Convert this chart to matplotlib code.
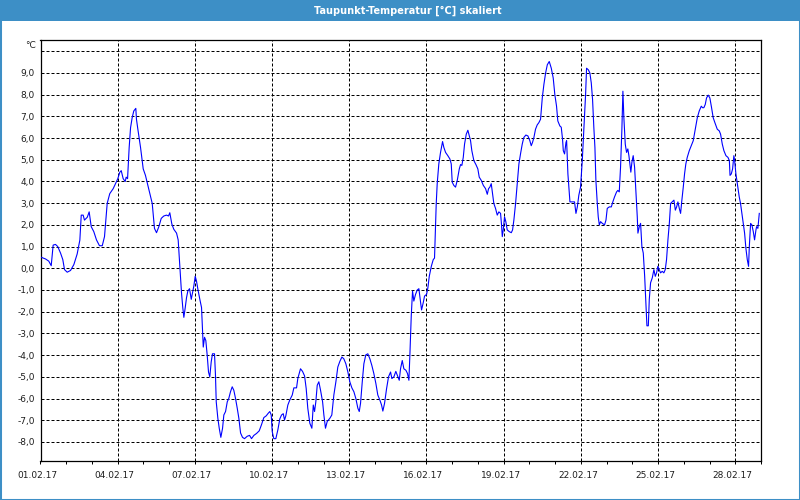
import matplotlib
matplotlib.use("Agg")
import matplotlib.pyplot as plt
import matplotlib.dates as mdates
from matplotlib.patches import Rectangle
from matplotlib.ticker import FixedLocator
from matplotlib.transforms import ScaledTranslation
from datetime import datetime, timedelta

title = "Taupunkt-Temperatur [°C] skaliert"
unit = "°C"
start = datetime(2017, 2, 1)
end = datetime(2017, 3, 1)
label_days = [1, 4, 7, 10, 13, 16, 19, 22, 25, 28]
y_ticks = list(range(-8, 11))

# hours since 01.02.17 00:00
hours = [0, 4.7, 7.7, 10.0, 11.8, 14.0, 16.1, 18.7, 20.8, 22.4, 24.9, 28.0, 31.1, 34.2, 36.7,
         38.0, 39.8, 41.0, 43.6, 45.4, 47.3, 49.7, 52.2, 55.0, 57.6, 59.7, 62.2, 64.6, 67.8,
         70.0, 72.1, 74.0, 75.3, 77.1, 79.0, 79.9, 81.2, 82.7, 84.0, 85.5, 87.0, 88.9, 89.5,
         90.8, 93.3, 95.8, 97.9, 100.1, 102.0, 104.2, 106.3, 108.2, 110.4, 112.6, 115.0, 117.5,
         119.4, 120.6, 122.5, 124.3, 126.9, 128.4, 129.7, 130.6, 131.5, 132.7, 133.7, 135.0,
         136.2, 137.4, 139.0, 140.6, 141.8, 143.0, 144.3, 145.5, 146.7, 148.6, 150.2, 151.1,
         151.8, 153.0, 154.2, 155.5, 156.7, 157.9, 159.2, 160.4, 162.3, 163.2, 163.9, 165.4,
         166.7, 168.2, 169.8, 171.0, 172.6, 174.2, 175.6, 177.2, 178.8, 180.3, 181.9, 183.5,
         185.0, 186.6, 188.4, 190.3, 192.8, 195.0, 196.8, 199.0, 201.5, 204.0, 206.1, 208.3,
         210.5, 212.4, 213.9, 215.2, 216.1, 217.6, 219.5, 221.4, 223.2, 224.8, 226.4, 227.6,
         228.8, 230.7, 232.5, 234.8, 236.3, 238.8, 240.0, 242.5, 244.4, 246.3, 247.8, 249.3,
         251.2, 253.1, 254.4, 255.6, 256.8, 258.1, 259.6, 261.2, 263.1, 264.3, 265.8, 267.4,
         269.9, 271.7, 273.6, 275.5, 277.3, 279.2, 281.1, 282.9, 284.8, 286.7, 288.5, 290.4,
         292.3, 294.1, 296.0, 297.3, 298.5, 300.1, 301.6, 303.4, 305.3, 307.2, 309.0, 310.9,
         312.8, 314.6, 316.5, 318.1, 319.3, 320.9, 322.8, 324.6, 326.5, 327.7, 329.6, 331.4,
         333.3, 334.6, 335.8, 337.4, 338.9, 340.8, 342.3, 343.6, 344.5, 345.8, 347.0, 348.2,
         349.8, 351.4, 352.9, 354.5, 355.4, 357.0, 358.2, 360.1, 361.3, 362.6, 364.5, 366.3,
         367.5, 368.2, 369.1, 370.0, 371.5, 373.1, 375.0, 376.2, 377.8, 379.9, 381.8, 383.1,
         384.0, 385.5, 387.1, 388.7, 390.6, 391.8, 393.0, 394.3, 395.5, 397.1, 398.6, 399.9,
         401.1, 402.3, 404.2, 406.1, 407.9, 409.2, 411.1, 413.0, 415.1, 416.7, 417.9, 419.1,
         420.4, 421.6, 422.8, 424.4, 426.0, 427.5, 429.1, 430.0, 430.7, 431.6, 432.8, 434.0,
         435.3, 437.2, 439.1, 440.3, 441.5, 443.1, 444.7, 446.2, 447.7, 449.3, 450.8, 452.7,
         454.6, 456.4, 457.7, 458.9, 460.2, 461.7, 463.3, 464.8, 466.4, 468.0, 469.5, 471.1,
         472.7, 474.5, 476.4, 478.2, 479.7, 481.3, 482.5, 484.4, 485.7, 486.9, 487.6, 488.8,
         490.1, 490.7, 491.9, 493.8, 496.0, 498.1, 499.4, 500.7, 502.1, 503.7, 505.3, 506.8,
         508.4, 509.3, 510.9, 512.4, 513.7, 514.9, 516.1, 517.1, 518.0, 519.3, 520.2, 521.2,
         522.4, 524.0, 526.1, 527.4, 528.6, 530.5, 532.4, 533.8, 535.4, 537.3, 538.5, 539.8,
         541.0, 542.2, 543.2, 544.1, 545.4, 546.6, 547.8, 548.8, 549.7, 550.6, 551.6, 552.8,
         554.1, 555.3, 556.6, 557.2, 558.5, 559.7, 560.9, 562.2, 563.5, 564.7, 565.6, 566.9,
         567.8, 569.0, 570.6, 572.1, 573.4, 574.6, 575.8, 577.1, 578.3, 579.9, 581.4, 582.7,
         583.9, 585.2, 586.5, 587.7, 589.2, 590.8, 592.1, 593.3, 594.5, 595.8, 597.0, 598.2,
         599.5, 600.7, 601.9, 603.2, 605.1, 607.0, 608.8, 610.7, 612.6, 614.4, 616.3, 617.5,
         618.7, 620.0, 621.2, 622.8, 624.3, 625.9, 627.4, 629.0, 631.2, 633.1, 634.3, 635.9,
         637.4, 639.3, 641.2, 642.5, 643.1, 644.3, 645.5, 646.7, 647.4, 648.6, 649.9, 651.7,
         652.9, 654.2, 655.5, 656.7, 657.9, 659.2, 660.4, 661.1, 662.3, 663.5, 664.8, 666.0,
         667.3, 667.9, 669.1, 670.4]

# dew point in °C
values = [0.52, 0.43, 0.33, 0.12, 1.07, 1.10, 1.0, 0.7, 0.4, -0.06, -0.18, -0.1, 0.17, 0.66, 1.3,
          2.45, 2.45, 2.22, 2.35, 2.6, 1.92, 1.69, 1.31, 1.04, 1.04, 1.46, 2.99, 3.44, 3.67,
          3.9, 4.13, 4.43, 4.5, 4.13, 4.0, 4.2, 4.13, 5.57, 6.48, 6.94, 7.25, 7.37, 6.87,
          6.41, 5.57, 4.58, 4.28, 3.82, 3.44, 2.99, 1.84, 1.64, 1.92, 2.3, 2.41, 2.45,
          2.41, 2.56, 2.04, 1.8, 1.62, 1.31, 0.32, -0.37, -1.12, -1.81, -2.26, -1.81,
          -1.35, -1.05, -0.94, -1.43, -1.12, -0.82, -0.37, -0.59, -0.94, -1.43, -1.81, -2.8,
          -3.63, -3.18, -3.33, -4.02, -4.78, -5.0, -4.32, -3.94, -3.94, -4.93, -6.15, -6.91,
          -7.37, -7.79, -7.37, -6.76, -6.6, -6.15, -6.0, -5.69, -5.46, -5.62, -6.0, -6.45,
          -6.91, -7.59, -7.79, -7.85, -7.74, -7.7, -7.85, -7.7, -7.61, -7.49, -7.21, -6.88,
          -6.8, -6.68, -6.6, -6.76, -7.52, -7.85, -7.85, -7.44, -6.94, -6.76, -6.7, -6.99,
          -6.8, -6.3, -6.07, -5.84, -5.51, -5.51, -5.08, -4.63, -4.75, -4.96, -5.54, -6.45,
          -7.14, -7.37, -6.3, -6.6, -6.15, -5.39, -5.23, -5.62, -6.15, -6.76, -7.37, -7.06,
          -6.91, -6.76, -5.84, -5.23, -4.55, -4.29, -4.09, -4.17, -4.4, -4.78, -5.23, -5.51,
          -5.69, -6.0, -6.45, -6.6, -6.22, -5.23, -4.4, -3.99, -3.94, -4.17, -4.47, -4.85,
          -5.31, -5.84, -6.07, -6.3, -6.58, -6.22, -5.54, -5.0, -4.78, -5.08, -5.0, -4.75,
          -5.0, -5.16, -4.63, -4.25, -4.63, -4.7, -4.85, -5.16, -4.02, -2.19, -1.05, -1.51,
          -1.2, -1.0, -0.94, -1.58, -1.92, -1.58, -1.28, -1.2, -0.9, -0.37, 0.09, 0.4,
          0.47, 1.62, 2.99, 3.9, 4.81, 5.34, 5.84, 5.57, 5.34, 5.19, 5.04, 4.81,
          3.97, 3.82, 3.74, 4.05, 4.58, 4.78, 4.74, 5.11, 5.72, 6.18, 6.36, 6.1,
          5.88, 5.42, 4.96, 4.78, 4.58, 4.2, 4.05, 3.82, 3.67, 3.41, 3.67, 3.74,
          3.9, 3.44, 2.99, 2.76, 2.45, 2.6, 2.53, 2.0, 1.46, 1.77, 2.37, 2.15,
          1.77, 1.69, 1.64, 1.77, 2.22, 2.99, 3.9, 4.81, 5.27, 5.72, 6.03, 6.14,
          6.1, 5.88, 5.65, 5.8, 6.03, 6.41, 6.61, 6.71, 6.87, 7.85, 8.47, 9.0,
          9.38, 9.53, 9.22, 8.77, 8.01, 7.47, 6.79, 6.56, 6.5, 5.95, 5.42, 5.27,
          5.8, 5.88, 4.35, 3.06, 3.06, 3.06, 2.53, 2.83, 3.37, 3.74, 4.96, 6.48,
          8.01, 9.22, 9.15, 9.0, 8.54, 7.78, 6.48, 5.57, 4.05, 2.99, 2.37, 2.0,
          2.15, 2.07, 2.0, 2.22, 2.76, 2.83, 2.83, 3.06, 3.29, 3.52, 3.59, 3.52,
          4.66, 6.33, 8.16, 6.94, 5.72, 5.34, 5.5, 5.19, 4.81, 4.43, 4.89, 5.19,
          4.66, 3.59, 2.37, 1.62, 1.92, 2.07, 1.0, 0.7, -0.37, -1.74, -2.65, -2.65,
          -1.43, -0.67, -0.44, -0.06, -0.37, -0.21, 0.09, -0.06, -0.21, -0.14, -0.21, -0.06,
          0.4, 1.31, 2.07, 2.99, 3.06, 3.14, 2.68, 2.83, 3.06, 2.76, 2.53, 3.14,
          3.74, 4.35, 4.81, 5.11, 5.42, 5.65, 5.88, 6.41, 6.94, 7.25, 7.47, 7.4,
          7.4, 7.55, 7.85, 7.98, 7.85, 7.4, 6.94, 6.71, 6.41, 6.33, 6.18, 5.72,
          5.42, 5.19, 5.11, 4.96, 4.28, 4.35, 4.58, 5.19, 4.96, 4.35, 3.9, 3.29,
          2.99, 2.53, 2.07, 1.62, 0.93, 0.4, 0.09, 1.0, 2.07, 2.0, 1.69, 1.31,
          1.77, 1.92, 1.84, 2.53]

W, H = 800, 500
blue = "#3d8fc6"
text_col = "#1e1e1e"
plt.rcParams["font.family"] = ["DejaVu Sans"]

fig = plt.figure(figsize=(W / 100, H / 100), dpi=100)
fig.patch.set_facecolor("white")

# title bar
fig.add_artist(Rectangle((0, 1 - 21 / H), 1, 21 / H, transform=fig.transFigure,
                         facecolor=blue, edgecolor="none", zorder=0))
fig.add_artist(Rectangle((0, 0), 1, 1, transform=fig.transFigure, fill=False,
                         edgecolor=blue, linewidth=2.2, zorder=5))
fig.text(408 / W, 1 - 11 / H, title, color="white", ha="center", va="center",
         fontsize=7, fontweight="bold")

ax = fig.add_axes([40.5 / W, 1 - 461 / H, (761 - 40.5) / W, (461 - 40) / H])
ax.set_facecolor("white")

times = [start + timedelta(hours=h) for h in hours]
ax.plot(times, values, color="#0000ff", linewidth=0.8, zorder=3)

ax.set_xlim(start, end)
ax.set_ylim(-8.88, 10.52)

major_dates = [mdates.date2num(datetime(2017, 2, d)) for d in label_days]
ax.xaxis.set_major_locator(FixedLocator(major_dates))
ax.xaxis.set_minor_locator(mdates.DayLocator())
ax.xaxis.set_major_formatter(mdates.DateFormatter("%d.%m.%y"))

ax.set_yticks(y_ticks)
ax.set_yticklabels([("" if v == 10 else f"{v:.1f}".replace(".", ",")) for v in y_ticks])

dash = (0, (3, 2))
ax.grid(True, which="major", axis="both", color="black", linewidth=0.72, linestyle=dash)
ax.set_axisbelow(True)

ax.tick_params(axis="y", length=0, pad=4, labelsize=6.5, labelcolor=text_col)
ax.tick_params(axis="x", which="both", direction="out", length=2.5, width=0.72,
               color="black", pad=5, labelsize=6.5, labelcolor=text_col)
for lbl in ax.get_xticklabels():
    lbl.set_transform(lbl.get_transform() + ScaledTranslation(-3 / 100, 0, fig.dpi_scale_trans))

for s in ax.spines.values():
    s.set_color("black")
    s.set_linewidth(0.9)

fig.text(36 / W, 1 - 45 / H, unit, ha="right", va="center", fontsize=6.5, color=text_col)

fig.savefig("out.png", dpi=100)
